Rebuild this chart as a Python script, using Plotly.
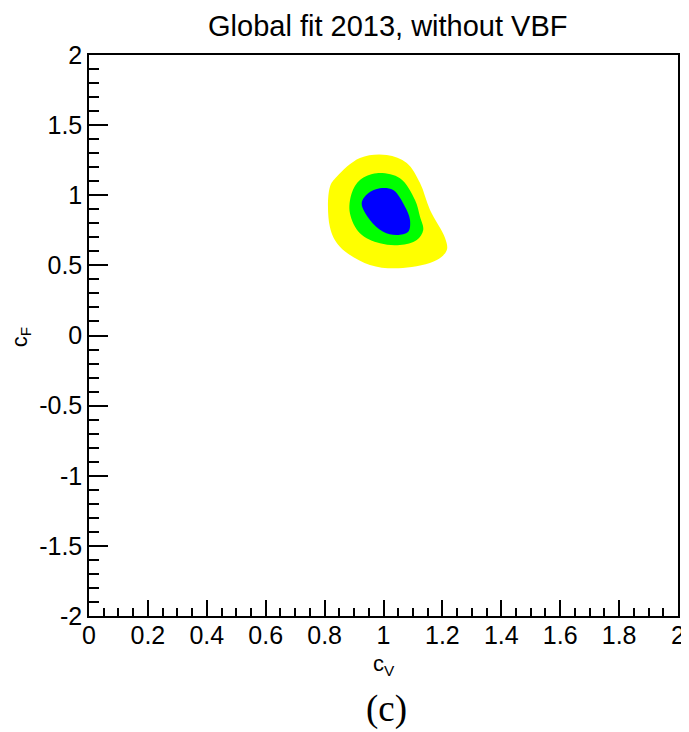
import plotly.graph_objects as go

# Contour boundaries (c_V, c_F)
yellow_cv = [1.011, 1.079, 1.124, 1.158, 1.209, 1.215, 1.181, 1.066, 0.954, 0.852, 0.818, 0.818, 0.841, 0.920]
yellow_cf = [1.287, 1.230, 1.087, 0.895, 0.695, 0.610, 0.538, 0.481, 0.503, 0.633, 0.774, 1.059, 1.132, 1.266]

green_cv = [0.977, 1.056, 1.107, 1.124, 1.135, 1.113, 1.056, 0.988, 0.920, 0.886, 0.892, 0.920]
green_cf = [1.157, 1.121, 0.966, 0.847, 0.752, 0.681, 0.645, 0.657, 0.729, 0.871, 1.014, 1.109]

blue_cv = [0.988, 1.033, 1.073, 1.090, 1.084, 1.045, 0.999, 0.954, 0.926, 0.948]
blue_cf = [1.050, 1.037, 0.918, 0.824, 0.740, 0.717, 0.740, 0.824, 0.943, 1.014]

x_ticks = [0, 0.2, 0.4, 0.6, 0.8, 1, 1.2, 1.4, 1.6, 1.8, 2]
x_ticklabels = ["0", "0.2", "0.4", "0.6", "0.8", "1", "1.2", "1.4", "1.6", "1.8", "2"]
y_ticks = [-2, -1.5, -1, -0.5, 0, 0.5, 1, 1.5, 2]
y_ticklabels = ["-2", "-1.5", "-1", "-0.5", "0", "0.5", "1", "1.5", "2"]

FONT = "Liberation Sans, Arial, sans-serif"

fig = go.Figure()
for xs, ys, col in [(yellow_cv, yellow_cf, "#ffff00"),
                    (green_cv, green_cf, "#00ff00"),
                    (blue_cv, blue_cf, "#0000ff")]:
    fig.add_trace(go.Scatter(
        x=xs + xs[:1], y=ys + ys[:1], mode="lines", fill="toself",
        fillcolor=col, line=dict(color=col, width=0, shape="spline", smoothing=1.0),
        hoverinfo="skip", showlegend=False))

axis_common = dict(
    showgrid=False, zeroline=False, showline=True, linecolor="black", linewidth=1.5,
    mirror=True, ticks="inside", tickcolor="black", tickwidth=1.5, automargin=False,
    tickfont=dict(family=FONT, size=25, color="black"),
)

fig.update_xaxes(range=[0, 2], tickvals=x_ticks, ticktext=x_ticklabels, ticklen=16,
                 ticklabelstandoff=-4,
                 minor=dict(ticks="inside", dtick=0.05, tick0=0, ticklen=8, tickcolor="black", tickwidth=1.5),
                 **axis_common)
fig.update_yaxes(range=[-2, 2], tickvals=y_ticks, ticktext=y_ticklabels, ticklen=19,
                 minor=dict(ticks="inside", dtick=0.1, tick0=0, ticklen=10, tickcolor="black", tickwidth=1.5),
                 **axis_common)

# The page body has an 8px margin, so the figure is sized and offset to compensate
fig.update_layout(
    width=681, height=724,
    margin=dict(l=81, r=11, t=47, b=116),
    plot_bgcolor="white", paper_bgcolor="white",
    annotations=[
        dict(text="Global fit 2013, without VBF", x=0.507, y=1.052, xref="paper", yref="paper",
             xanchor="center", yanchor="middle", showarrow=False,
             font=dict(family=FONT, size=29, color="black")),
        dict(text="c<sub>V</sub>", x=0.501, y=-0.087, xref="paper", yref="paper",
             xanchor="center", yanchor="middle", showarrow=False,
             font=dict(family=FONT, size=22, color="black")),
        dict(text="c<sub>F</sub>", x=-0.1154, y=0.497, xref="paper", yref="paper",
             xanchor="center", yanchor="middle", showarrow=False, textangle=-90,
             font=dict(family=FONT, size=22, color="black")),
        dict(text="(c)", x=0.505, y=-0.1663, xref="paper", yref="paper",
             xanchor="center", yanchor="middle", showarrow=False,
             font=dict(family="Liberation Serif, Times New Roman, serif", size=37, color="black")),
    ],
)

fig.write_html("out.html")
